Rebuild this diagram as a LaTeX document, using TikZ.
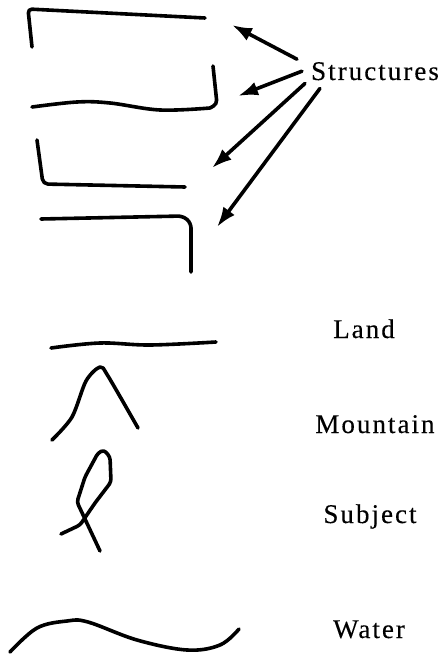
\documentclass[tikz,border=0pt]{standalone}
\usepackage{fontspec}
\setmainfont{Liberation Serif}[LetterSpace=7.5, FakeBold=0.3]
\usetikzlibrary{arrows.meta}

\begin{document}
\begin{tikzpicture}[x=1pt, y=-1pt, >={Latex[length=20pt,width=14pt]},
    sketch/.style={line width=3.6pt, line cap=round, line join=round},
    txt/.style={font=\fontsize{27}{32}\selectfont, anchor=base, inner sep=0pt}]
    \useasboundingbox (0,0) rectangle (439,655);
    % Strukturen (vier Rahmen)
    \draw[sketch, rounded corners=4pt] (32,47) -- (28,9) -- (205,18);
    \draw[sketch, rounded corners=4pt] (213,66) -- (217,104) -- (210,108);
    \draw[sketch] plot[smooth, tension=0.6] coordinates {(210,108) (160,110) (110,103) (77,102) (32,107)};
    \draw[sketch, rounded corners=5pt] (37,140) -- (43,184) -- (185,187);
    \draw[sketch, rounded corners=5pt] (41,219) -- (183,216) -- (191,223) -- (191,272);
    \coordinate (t1) at (232,25);
    \coordinate (t2) at (238,96);
    \coordinate (t3) at (212,168);
    \coordinate (t4) at (217,227);
    % Beschriftungen
    \node[txt] (str) at (375,80) {Structures};
    \node[txt] (land) at (364,338) {Land};
    \node[txt] (mount) at (375,433) {Mountain};
    \node[txt] (subj) at (370,523) {Subject};
    \node[txt] (water) at (369,638) {Water};
    % Pfeile
    \draw[sketch, ->] ([shift={(-14,-12)}]str.west) -- (t1);
    \draw[sketch, ->] ([xshift=-9]str.west) -- (t2);
    \draw[sketch, ->] ([shift={(-6,3)}]str.south west) -- (t3);
    \draw[sketch, ->] ([shift={(9,8)}]str.south west) -- (t4);
    % Land, Berg, Person, Wasser
    \draw[sketch] plot[smooth, tension=0.6] coordinates {(51,348) (100,343) (150,345) (216,342)};
    \draw[sketch] plot[smooth, tension=0.5] coordinates {(52,440) (72,417) (86,381) (100,367) (108,376) (138,428)};
    \draw[sketch, rounded corners=3pt] (61,534) -- (80,525) -- (95,503) -- (111,482) -- (110,457) -- (104,450)
        -- (98,453) -- (85,477) -- (77,502) -- (100,551);
    \draw[sketch] plot[smooth, tension=0.6] coordinates {(10,652) (37,628) (67,621) (88,622) (137,640) (187,650) (220,645) (239,629)};
\end{tikzpicture}
\end{document}
